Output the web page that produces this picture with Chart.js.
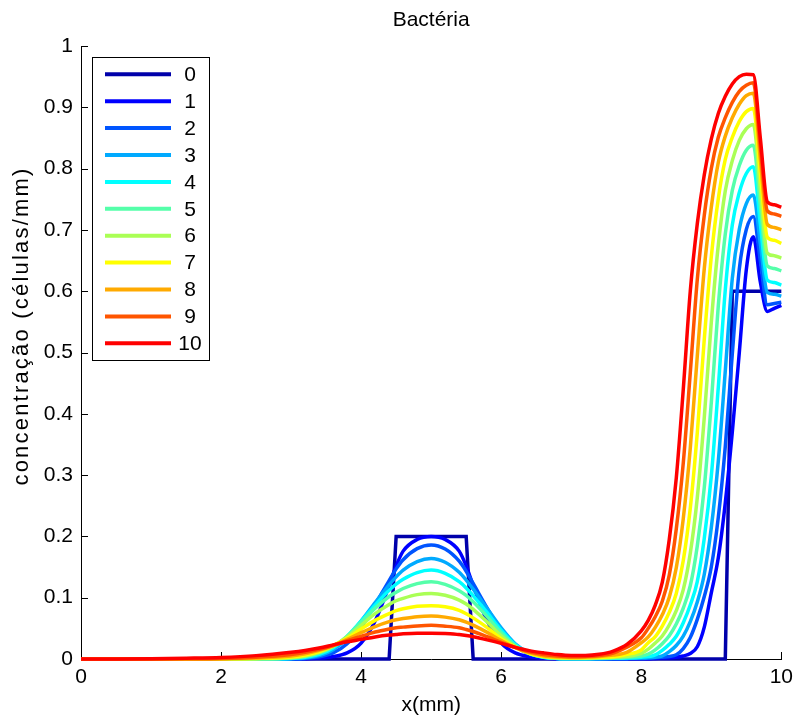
<!DOCTYPE html>
<html>
<head>
<meta charset="utf-8">
<script src="https://cdn.jsdelivr.net/npm/chart.js@4"></script>
<style>
  html, body { margin: 0; padding: 0; background: #fff; }
  #wrap { width: 799px; height: 718px; }
</style>
</head>
<body>
<div id="wrap"><canvas id="c" width="799" height="718"></canvas></div>
<script>
// Bacteria concentration profiles along x, one curve per time step.
const xGrid = [0, 0.5, 1, 1.5, 2, 2.5, 3, 3.2, 3.4, 3.6, 3.8, 4, 4.2, 4.4,
  4.5, 4.6, 4.8, 5, 5.2, 5.4, 5.5,
  5.6, 5.8, 6, 6.2, 6.4, 6.6, 6.8, 7,
  7.2, 7.4, 7.6, 7.8,
  8, 8.1, 8.2, 8.3, 8.4, 8.5, 8.6, 8.7, 8.8, 8.9, 9, 9.1, 9.2, 9.3, 9.4, 9.5, 9.6,
  9.7, 9.8, 9.9, 10];

const stepLabels = ['0', '1', '2', '3', '4', '5', '6', '7', '8', '9', '10'];

const t0 = [0, 0, 0, 0, 0, 0, 0, 0, 0, 0, 0, 0, 0, 0,
  0.2, 0.2, 0.2, 0.2, 0.2, 0.2, 0.2,
  0, 0, 0, 0, 0, 0, 0, 0,
  0, 0, 0, 0,
  0, 0, 0, 0, 0, 0, 0, 0, 0, 0, 0, 0, 0, 0.6, 0.6, 0.6, 0.6,
  0.6, 0.6, 0.6, 0.6];

const t1 = [0, 0, 0, 0, 0, 0, 0.0001, 0.0005, 0.0015, 0.004, 0.010, 0.026, 0.062, 0.120,
  0.152, 0.176, 0.195, 0.200, 0.195, 0.176, 0.152,
  0.120, 0.062, 0.026, 0.010, 0.004, 0.0015, 0.0005, 0.0001,
  0, 0, 0.0001, 0.0002,
  0.0003, 0.0005, 0.001, 0.0015, 0.002, 0.003, 0.005, 0.009, 0.02, 0.052, 0.108, 0.165, 0.255, 0.37, 0.50, 0.635, 0.689,
  0.615, 0.567, 0.572, 0.577];

const t2 = [0, 0, 0, 0, 0, 0, 0.0003, 0.001, 0.0035, 0.010, 0.025, 0.052, 0.089, 0.128,
  0.147, 0.162, 0.180, 0.186, 0.1793, 0.1596, 0.1432,
  0.1233, 0.0831, 0.0466, 0.0214, 0.0082, 0.0027, 0.0008, 0.0003,
  0.0002, 0.0003, 0.0004, 0.0006,
  0.001, 0.0015, 0.002, 0.003, 0.004, 0.0069, 0.017, 0.035, 0.0646, 0.102, 0.150, 0.231, 0.347, 0.4976, 0.636, 0.7006, 0.722,
  0.650, 0.578, 0.580, 0.582];

const t3 = [0, 0, 0, 0, 0, 0, 0.0006, 0.0018, 0.0055, 0.015, 0.034, 0.062, 0.092, 0.121,
  0.134, 0.145, 0.159, 0.164, 0.1579, 0.1415, 0.1288,
  0.114, 0.0824, 0.0508, 0.0249, 0.0099, 0.0031, 0.0009, 0.0004,
  0.0004, 0.0005, 0.0007, 0.001,
  0.0015, 0.002, 0.003, 0.005, 0.012, 0.022, 0.0374, 0.061, 0.093, 0.1383, 0.214, 0.3226, 0.470, 0.621, 0.701, 0.743, 0.757,
  0.678, 0.598, 0.595, 0.592];

const t4 = [0, 0, 0, 0, 0, 0.0001, 0.001, 0.0028, 0.0075, 0.018, 0.037, 0.062, 0.088, 0.112,
  0.122, 0.130, 0.141, 0.145, 0.1397, 0.1262, 0.116,
  0.1034, 0.0755, 0.047, 0.0233, 0.0092, 0.003, 0.001, 0.0006,
  0.0006, 0.0008, 0.0012, 0.0018,
  0.003, 0.004, 0.0067, 0.014, 0.024, 0.037, 0.059, 0.088, 0.1264, 0.197, 0.298, 0.443, 0.602, 0.708, 0.761, 0.792, 0.803,
  0.71, 0.618, 0.614, 0.610];

const t5 = [0, 0, 0, 0, 0, 0.0002, 0.0015, 0.004, 0.0095, 0.020, 0.037, 0.060, 0.083, 0.102,
  0.109, 0.115, 0.123, 0.126, 0.1218, 0.1114, 0.1037,
  0.0935, 0.0692, 0.0428, 0.0217, 0.0093, 0.0035, 0.0013, 0.0008,
  0.0008, 0.0012, 0.0018, 0.003,
  0.005, 0.008, 0.015, 0.025, 0.038, 0.057, 0.083, 0.1195, 0.1845, 0.28, 0.418, 0.576, 0.6935, 0.7645, 0.805, 0.830, 0.838,
  0.740, 0.641, 0.637, 0.633];

const t6 = [0, 0, 0, 0, 0.0001, 0.0004, 0.0022, 0.005, 0.011, 0.021, 0.036, 0.055, 0.074, 0.089,
  0.095, 0.099, 0.105, 0.107, 0.1039, 0.0961, 0.0896,
  0.0809, 0.0603, 0.0379, 0.0202, 0.0094, 0.0038, 0.0017, 0.0012,
  0.0013, 0.0018, 0.0028, 0.0045,
  0.0092, 0.016, 0.026, 0.0375, 0.0555, 0.079, 0.1132, 0.1726, 0.263, 0.394, 0.549, 0.675, 0.764, 0.813, 0.846, 0.865, 0.872,
  0.767, 0.662, 0.658, 0.654];

const t7 = [0, 0, 0, 0, 0.0002, 0.0008, 0.0033, 0.0065, 0.012, 0.022, 0.034, 0.049, 0.063, 0.074,
  0.079, 0.082, 0.086, 0.087, 0.0852, 0.0795, 0.0737,
  0.0671, 0.0512, 0.0333, 0.0194, 0.0094, 0.0044, 0.0024, 0.0018,
  0.002, 0.0027, 0.0037, 0.0076,
  0.0148, 0.0265, 0.0366, 0.0537, 0.076, 0.1069, 0.1607, 0.246, 0.369, 0.522, 0.656, 0.751, 0.815, 0.851, 0.877, 0.893, 0.898,
  0.793, 0.688, 0.683, 0.678];

const t8 = [0, 0, 0, 0.0001, 0.0004, 0.0015, 0.005, 0.0085, 0.014, 0.022, 0.032, 0.043, 0.053, 0.061,
  0.064, 0.066, 0.069, 0.070, 0.0683, 0.0641, 0.0602,
  0.0552, 0.0434, 0.030, 0.0185, 0.0103, 0.0053, 0.0031, 0.0025,
  0.003, 0.0042, 0.0063, 0.0113,
  0.0265, 0.036, 0.0516, 0.072, 0.1006, 0.1488, 0.229, 0.344, 0.494, 0.637, 0.737, 0.810, 0.853, 0.883, 0.905, 0.919, 0.923,
  0.816, 0.709, 0.704, 0.700];

const t9 = [0, 0, 0.0001, 0.0004, 0.001, 0.003, 0.0075, 0.011, 0.016, 0.022, 0.030, 0.037, 0.044, 0.049,
  0.051, 0.052, 0.054, 0.055, 0.0535, 0.0509, 0.0481,
  0.0449, 0.0364, 0.0272, 0.0191, 0.0116, 0.0073, 0.0049, 0.0038,
  0.0042, 0.0055, 0.0097, 0.0195,
  0.0345, 0.050, 0.069, 0.0943, 0.137, 0.212, 0.320, 0.467, 0.619, 0.724, 0.800, 0.851, 0.883, 0.908, 0.926, 0.936, 0.940,
  0.835, 0.731, 0.726, 0.722];

const t10 = [0, 0, 0.0003, 0.0012, 0.0025, 0.0055, 0.011, 0.014, 0.018, 0.023, 0.028, 0.032, 0.036, 0.039,
  0.040, 0.041, 0.042, 0.042, 0.0418, 0.0398, 0.0383,
  0.0363, 0.0312, 0.0255, 0.019, 0.0137, 0.0101, 0.0072, 0.0058,
  0.0058, 0.0077, 0.013, 0.024,
  0.046, 0.063, 0.088, 0.125, 0.195, 0.295, 0.44, 0.60, 0.71, 0.79, 0.848, 0.89, 0.918, 0.938, 0.95, 0.954, 0.953,
  0.85, 0.746, 0.741, 0.737];

const seriesValues = [t0, t1, t2, t3, t4, t5, t6, t7, t8, t9, t10];

const xTickValues = [0, 2, 4, 6, 8, 10];
const xTickLabels = ['0', '2', '4', '6', '8', '10'];
const yTickLabels = ['0', '0.1', '0.2', '0.3', '0.4', '0.5', '0.6', '0.7', '0.8', '0.9', '1'];

const chartTitle = 'Bactéria';
const yAxisTitle = 'concentração (células/mm)';

// jet-like palette, dark blue through red
const palette = ['#0000aa', '#0000ff', '#0055ff', '#00aaff', '#00ffff', '#55ffaa',
  '#aaff55', '#ffff00', '#ffaa00', '#ff5500', '#ff0000'];

const FONT = "'Liberation Sans', Arial, Helvetica, sans-serif";
Chart.defaults.font.family = FONT;
Chart.defaults.font.size = 21;
Chart.defaults.color = '#000';

const datasets = seriesValues.map((vals, i) => ({
  label: stepLabels[i],
  data: xGrid.map((x, j) => ({ x: x, y: vals[j] })),
  borderColor: palette[i],
  backgroundColor: palette[i],
  borderWidth: 3.5,
  pointRadius: 0,
  fill: false,
  clip: false,
  order: seriesValues.length - 1 - i,
  cubicInterpolationMode: i === 0 ? 'default' : 'monotone',
  tension: 0,
  borderJoinStyle: i === 0 ? 'miter' : 'round'
}));

// inward tick marks, titles and boxed legend in the style of a MATLAB figure
const figureDecor = {
  id: 'figureDecor',
  beforeDatasetsDraw(chart) {
    const { ctx, chartArea: a, scales: { x, y } } = chart;
    ctx.save();
    ctx.strokeStyle = '#000';
    ctx.lineWidth = 1;
    ctx.beginPath();
    xTickValues.forEach(v => {
      const px = Math.round(x.getPixelForValue(v)) + 0.5;
      ctx.moveTo(px, a.bottom);
      ctx.lineTo(px, a.bottom - 7);
    });
    yTickLabels.forEach((_, k) => {
      const py = Math.round(y.getPixelForValue(k / 10)) + 0.5;
      ctx.moveTo(a.left, py);
      ctx.lineTo(a.left + 7, py);
    });
    ctx.stroke();

    // vertical axis title
    ctx.fillStyle = '#000';
    ctx.font = '22px ' + FONT;
    if ('letterSpacing' in ctx) ctx.letterSpacing = '2.2px';
    ctx.textAlign = 'center';
    ctx.textBaseline = 'middle';
    ctx.translate(22, 326);
    ctx.rotate(-Math.PI / 2);
    ctx.fillText(yAxisTitle, 0, 0);
    ctx.restore();
  },
  afterDatasetsDraw(chart) {
    const { ctx, chartArea: a } = chart;
    ctx.save();
    ctx.fillStyle = '#000';
    ctx.font = '21px ' + FONT;
    ctx.textAlign = 'center';
    ctx.textBaseline = 'middle';
    ctx.fillText(chartTitle, (a.left + a.right) / 2, 20);
    // legend box
    const bx = 92.5, by = 57.5, bw = 117, bh = 303;
    ctx.fillStyle = '#fff';
    ctx.fillRect(bx, by, bw, bh);
    ctx.strokeStyle = '#000';
    ctx.lineWidth = 1;
    ctx.strokeRect(bx, by, bw, bh);
    const rowH = 26.9;
    chart.data.datasets.forEach((ds, i) => {
      const cy = 74.3 + i * rowH;
      ctx.strokeStyle = ds.borderColor;
      ctx.lineWidth = 4;
      ctx.beginPath();
      ctx.moveTo(105, cy);
      ctx.lineTo(171, cy);
      ctx.stroke();
      ctx.fillStyle = '#000';
      ctx.fillText(ds.label, 190, cy + 1);
    });
    ctx.restore();
  }
};

new Chart(document.getElementById('c'), {
  type: 'line',
  data: { datasets: datasets },
  plugins: [figureDecor],
  options: {
    responsive: false,
    maintainAspectRatio: false,
    animation: false,
    devicePixelRatio: 1,
    layout: { padding: { left: 0, right: 15, top: 46, bottom: 0 } },
    plugins: {
      legend: { display: false },
      tooltip: { enabled: false },
      title: { display: false }
    },
    scales: {
      x: {
        type: 'linear',
        min: 0,
        max: 10,
        afterFit(scale) { scale.height = 59; },
        afterBuildTicks(scale) { scale.ticks = xTickValues.map(v => ({ value: v })); },
        ticks: {
          padding: 6,
          maxRotation: 0,
          autoSkip: false,
          callback: (v) => xTickLabels[xTickValues.indexOf(v)]
        },
        grid: { display: false, drawTicks: false },
        border: { display: true, color: '#000', width: 1 },
        title: { display: true, text: 'x(mm)', padding: { top: 0, bottom: 0 } }
      },
      y: {
        type: 'linear',
        min: 0,
        max: 1,
        afterFit(scale) { scale.width = 81; },
        afterBuildTicks(scale) { scale.ticks = yTickLabels.map((_, k) => ({ value: k / 10 })); },
        ticks: {
          padding: 8,
          autoSkip: false,
          callback: (v) => yTickLabels[Math.round(v * 10)]
        },
        grid: { display: false, drawTicks: false },
        border: { display: true, color: '#000', width: 1 },
        title: { display: false }
      }
    }
  }
});
</script>
</body>
</html>
